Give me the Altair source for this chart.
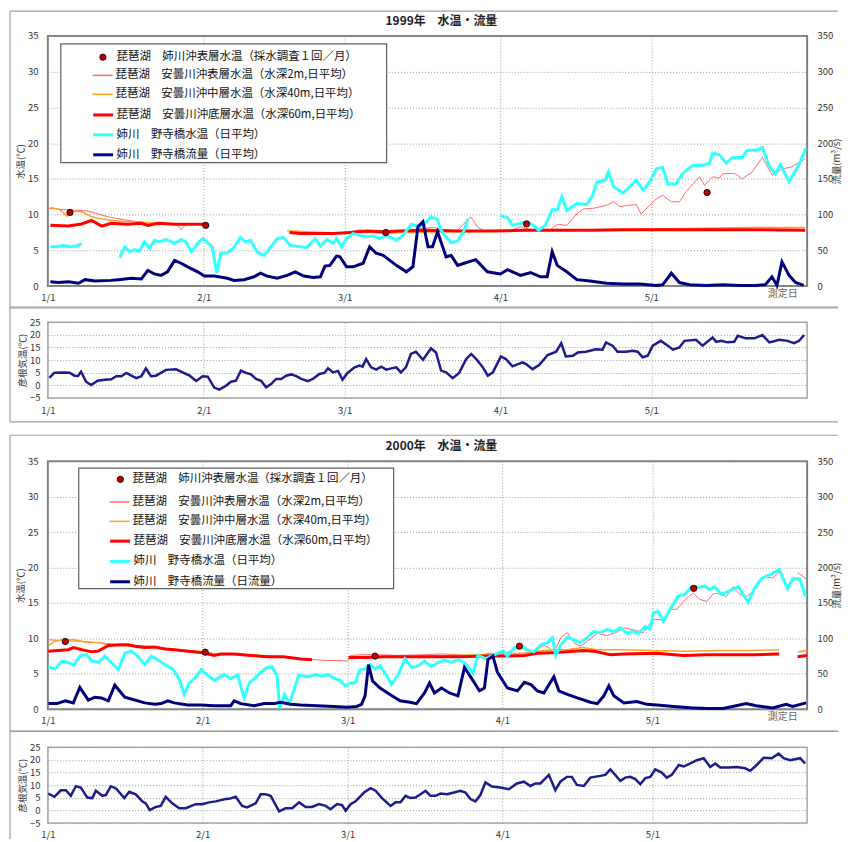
import altair as alt
import pandas as pd

FONT = "Noto Sans CJK JP"

# ---------------- 1999 ----------------
TICKS99 = [0, 31, 59, 90, 120]
TICKLAB99 = ["1/1", "2/1", "3/1", "4/1", "5/1"]
XEND99 = 151

NAMES99 = [
    "琵琶湖　姉川沖表層水温（採水調査１回／月）",
    "琵琶湖　安曇川沖表層水温（水深2m,日平均）",
    "琵琶湖　安曇川沖中層水温（水深40m,日平均）",
    "琵琶湖　安曇川沖底層水温（水深60m,日平均）",
    "姉川　野寺橋水温（日平均）",
    "姉川　野寺橋流量（日平均）",
]

DOT99 = [[4.4, 10.3], [31.4, 8.5], [67.2, 7.5], [95.2, 8.7], [131.1, 13.1]]

PINK99 = [
    [0, 10.9], [3, 10.7], [6, 10.6], [8, 10.5], [10, 10.1], [12, 9.7], [15, 9.3], [18, 9.0],
    [20, 8.9], [22, 8.8], [24, 8.7], [25.5, 8.8], [26.5, 7.9], [27.5, 8.7], [29, 8.7], [31, 8.7],
    None,
    [48.1, 7.5], [52, 7.4], [56, 7.35], [60, 7.5], [62, 7.9], [63.4, 7.6], [66.7, 7.35], [70, 7.5],
    [72.6, 7.9], [74.9, 8.1], [76.9, 8.2], [78.9, 7.7], [81.5, 7.8], [83.1, 9.0], [84.1, 9.7],
    [85.4, 8.3], [86.8, 7.7], [90, 7.8], [92, 7.8], [94, 8.3], [96, 7.9], [98, 7.8], [100, 7.9],
    [101.3, 8.65], [103.2, 8.5], [105.2, 10.1], [106.5, 10.8], [108.5, 10.9], [111.1, 11.3],
    [112.5, 11.8], [113.8, 11.1], [115.1, 11.3], [117, 11.4], [118, 10.1], [119.7, 11.3],
    [121, 12.2], [122.3, 12.7], [124, 11.8], [125.6, 11.8], [126.9, 13.2], [128.3, 14.3],
    [129.6, 15.3], [130.6, 14.1], [132.2, 15.3], [133.5, 15.1], [134.2, 15.7], [136.5, 15.8],
    [138.1, 15.0], [140.1, 16.0], [142.1, 18.0], [144.1, 15.5], [146, 16.4], [148, 16.7],
    [150.6, 17.8],
]

ORANGE99 = [
    [0.5, 11.0], [2.4, 10.7], [3.8, 9.8], [4.7, 10.5], [6.7, 10.4], [8.7, 9.7], [10.7, 9.4],
    [14, 9.1], [17.3, 9.0], [20.6, 8.8], [23.8, 8.75], [26.5, 8.7], [31, 8.7],
    None,
    [47.6, 7.7], [49, 7.7], [55, 7.4], [62, 7.5], [70, 7.5], [80, 7.6], [90, 7.7], [100, 7.8],
    [110, 7.9], [120, 8.0], [130, 8.1], [140, 8.2], [150.6, 8.2],
]

RED99 = [
    [0.5, 8.5], [4.1, 8.4], [6.7, 8.7], [8.7, 9.2], [10.7, 8.4], [12.6, 8.8], [15.9, 8.65],
    [18.6, 8.8], [19.9, 8.5], [21.9, 8.8], [25.2, 8.65], [27.8, 8.65], [31.8, 8.65],
    None,
    [48.1, 7.5], [50.2, 7.35], [53.5, 7.4], [56.8, 7.35], [60.1, 7.5], [63.4, 7.7], [66.7, 7.6],
    [70, 7.7], [74.9, 7.8], [81.5, 7.7], [88.1, 7.7], [94.7, 7.8], [101.3, 7.8], [107.9, 7.8],
    [114.4, 7.9], [121, 7.9], [127.6, 7.9], [134.2, 7.9], [140.8, 7.9], [150.6, 7.8],
]

CYAN99 = [
    [0.5, 5.5], [1.8, 5.5], [3.1, 5.7], [4.4, 5.5], [5.7, 5.6], [6.7, 5.95],
    None,
    [14.3, 4.0], [15.3, 5.5], [16.3, 4.8], [17.3, 5.1], [18.2, 4.9], [19.2, 6.2], [20.2, 5.3],
    [21.2, 6.4], [22.2, 6.2], [23.5, 6.5], [25.2, 6.0], [26.5, 6.5], [27.5, 6.2], [28.5, 4.8],
    [29.8, 6.0], [30.8, 6.65], [31.8, 6.0], [32.7, 5.5], [33.6, 1.8], [34.4, 4.6], [35.7, 4.65],
    [37, 5.4], [38.3, 6.8], [39.3, 6.2], [40.3, 6.4], [41.6, 4.8], [43, 4.3], [45.6, 6.65],
    [46.9, 6.8], [48.2, 5.7], [50.2, 5.5], [51.5, 5.4], [53.2, 6.65], [54.2, 5.6], [55.5, 6.5],
    [56.8, 6.0], [57.4, 6.65], [58.4, 5.5], [59.4, 6.65], [60.7, 7.35], [62.1, 7.1], [63.4, 6.9],
    [64.7, 7.0], [66, 6.65], [67.3, 7.1], [69.3, 6.4], [70.6, 7.1], [72.3, 8.65], [73.9, 8.3],
    [74.9, 8.65], [76.2, 9.7], [77.5, 9.3], [78.2, 7.8], [80.2, 6.05], [81.5, 6.3], [82.8, 7.8],
    [83.5, 9.4],
    None,
    [90, 9.8], [91.4, 9.6], [92.4, 8.5], [94, 8.8], [95.3, 9.0], [96.6, 8.5], [97.6, 7.8],
    [98.9, 8.5], [100.3, 10.7], [101.3, 10.7], [102.2, 12.5], [103.2, 10.6], [105.2, 11.6],
    [107.2, 11.4], [108.2, 12.5], [109.2, 14.6], [110.8, 14.8], [111.5, 16.0], [112.5, 13.9],
    [114.4, 13.0], [115.7, 13.9], [117, 14.8], [118.4, 13.4], [119.7, 14.6], [121, 16.4],
    [122.3, 16.6], [123.3, 14.3], [124.9, 14.3], [126.3, 15.8], [128.3, 16.9], [130.2, 16.9],
    [131.6, 17.2], [132.2, 18.6], [133.5, 18.4], [134.9, 17.2], [136.2, 18.0], [138.1, 18.0],
    [139.1, 19.0], [140.8, 19.0], [142.1, 19.4], [143.4, 16.9], [144.7, 15.7], [145.7, 17.0],
    [147.4, 14.6], [149.3, 16.9], [150.8, 19.3],
]

FLOW99 = [
    [0.5, 6], [2.1, 5], [4.1, 6], [6.1, 4], [7.4, 9], [9.4, 7], [12.6, 8], [14, 9], [16.6, 11],
    [18.6, 10], [19.9, 22], [21.2, 17], [22.5, 15], [23.8, 20], [25.2, 36], [26.5, 32],
    [27.8, 27], [29.8, 20], [31.1, 14], [33.1, 14], [35.7, 11], [37, 8], [39, 9], [41, 13],
    [42.3, 18], [43.6, 14], [45.6, 11], [47.6, 15], [49.2, 20], [50.9, 14], [52.8, 12],
    [54.2, 13], [55.1, 28], [56.1, 29], [57.4, 42], [58.1, 41], [59.4, 27], [60.7, 27],
    [62.7, 32], [64, 55], [65.3, 46], [66.7, 43], [68, 36], [69.3, 29], [71.3, 20], [72.6, 27],
    [73.6, 83], [74.6, 90], [75.6, 55], [76.5, 55], [77.5, 76], [79.2, 41], [80.2, 43],
    [81.5, 29], [82.8, 32], [85.1, 37], [87.4, 20], [90, 17], [91.4, 23], [94, 15], [96, 19],
    [98, 13], [99.3, 13], [100.3, 48], [101.3, 29], [103.2, 20], [105.2, 9], [107.8, 7],
    [111.1, 4], [114.4, 3], [117.7, 3], [121, 1], [122.3, 2], [124, 18], [125.6, 5], [127.6, 2],
    [130.9, 1], [134.2, 2], [137.5, 1], [140.8, 1], [142.7, 2], [144, 13], [145, 1], [146, 34],
    [147.4, 15], [148.7, 5], [150.3, 1],
]

AIR99 = [
    [0.3, 2.9], [1.3, 5.0], [3.3, 5.1], [4.3, 5.0], [5.3, 3.8], [6.0, 3.7], [6.6, 5.4], [7.6, 1.4],
    [8.6, 0.1], [9.9, 1.8], [11.3, 2.2], [12.6, 2.4], [13.6, 3.6], [14.6, 3.6], [15.6, 4.9],
    [16.6, 3.8], [17.6, 2.8], [18.6, 3.6], [19.5, 6.7], [20.5, 3.6], [21.5, 3.8], [23.5, 6.1],
    [25.5, 6.3], [26.8, 5.1], [28.2, 3.8], [29.5, 1.7], [30.8, 3.6], [31.8, 3.4], [33.1, -0.9],
    [34.1, -1.7], [35.5, -0.1], [36.4, 1.4], [37.4, 1.8], [38.4, 5.8], [39.4, 4.9], [40.4, 4.3],
    [41.4, 2.5], [42.4, 1.8], [43.4, -0.8], [44.4, 0.5], [45.4, 2.5], [46.4, 2.5], [47.4, 3.8],
    [48.4, 4.3], [49.4, 3.6], [50.4, 2.5], [51.7, 1.6], [52.7, 2.5], [54.0, 4.5], [55.0, 4.9],
    [55.7, 6.7], [56.7, 5.1], [57.7, 5.7], [58.6, 2.2], [59.6, 4.9], [61.0, 7.1], [62.0, 7.8],
    [62.6, 7.4], [63.3, 10.4], [64.3, 7.1], [65.3, 6.2], [66.3, 7.4], [67.3, 6.2], [68.3, 6.7],
    [69.3, 7.1], [70.2, 5.1], [71.2, 7.1], [72.2, 12.4], [73.2, 13.3], [74.6, 10.1],
    [76.2, 14.6], [77.2, 13.0], [78.2, 5.8], [79.2, 5.1], [80.5, 2.8], [81.8, 4.9], [83.2, 10.4],
    [84.2, 12.4], [85.2, 10.4], [86.5, 7.1], [87.5, 3.8], [88.5, 5.1], [90.1, 11.4], [91.1, 10.4],
    [92.4, 7.5], [94.4, 9.1], [95.1, 8.4], [96.4, 6.4], [97.7, 8.0], [99.4, 12.0], [101.1, 13.3],
    [102.1, 16.7], [103.0, 11.4], [104.4, 11.7], [105.4, 13.0], [107.0, 13.3], [109.0, 14.3],
    [110.3, 14.1], [111.0, 17.0], [112.3, 15.7], [113.3, 13.3], [115.0, 13.3], [116.3, 13.7],
    [117.3, 13.3], [118.3, 11.1], [119.3, 11.7], [120.3, 15.7], [121.9, 17.6], [123.3, 15.7],
    [124.3, 14.1], [125.6, 15.0], [126.6, 17.6], [128.9, 18.0], [130.2, 15.7], [132.2, 18.9],
    [132.9, 17.2], [133.9, 17.6], [135.2, 17.0], [136.5, 17.2], [137.2, 19.6], [138.8, 18.6],
    [140.5, 18.6], [142.1, 19.9], [143.5, 17.0], [145.5, 18.0], [147.1, 17.6], [148.4, 16.7],
    [149.4, 17.6], [150.4, 19.9],
]

# ---------------- 2000 ----------------
TICKS00 = [0, 31, 60, 91, 121]
TICKLAB00 = ["1/1", "2/1", "3/1", "4/1", "5/1"]
XEND00 = 152

NAMES00 = NAMES99[:5] + ["姉川　野寺橋流量（日流量）"]

DOT00 = [[3.5, 9.56], [31.5, 8.06], [65.5, 7.5], [94.4, 8.9], [129.3, 17.06]]

PINK00 = [
    [0, 9.8], [3, 9.7], [6, 9.6], [10, 9.4], [13, 9.2], [16, 9.1], [20, 8.9], [24, 8.6],
    [28, 8.3], [31, 8.1], [34, 7.8], [38, 7.8], [42, 7.6], [46, 7.4], [50, 7.2], [53, 7.0],
    [56, 6.9], [59, 6.85], [60, 6.8], [60.5, 7.6], [63, 7.7], [66, 7.7], [70, 7.6], [75.4, 7.7],
    [78.8, 7.8], [82.1, 7.7], [85.4, 7.5], [88.7, 7.9], [91.2, 7.8], [94, 8.7], [95.4, 8.9],
    [96.7, 8.1], [98, 8.4], [99.3, 9.0], [100.3, 8.7], [101.3, 8.0], [102.7, 10.1], [104, 10.8],
    [105.3, 9.4], [106.6, 8.9], [108, 9.6], [110, 10.7], [112, 10.4], [114, 10.9], [115.3, 11.5],
    [117.3, 11.2], [119.2, 10.8], [121.2, 12.7], [123.2, 12.6], [124.6, 14.1], [125.9, 14.1],
    [127.9, 15.7], [129.2, 16.4], [130.5, 15.5], [131.9, 15.2], [133.2, 16.3], [134.5, 16.3],
    [135.8, 15.9], [137.2, 17.3], [138.5, 16.2], [139.8, 15.9], [141.1, 16.5], [142.5, 18.0],
    [143.8, 18.7], [145.1, 18.5], [146.4, 19.4],
    None,
    [150.1, 19.3], [151.8, 18.4],
]

ORANGE00 = [
    [0.1, 9.0], [1.5, 9.6], [3.1, 9.8], [5.4, 9.8], [7.4, 9.5], [10.1, 9.4], [12.1, 9.1],
    [14.1, 9.0], [17.4, 8.9], [18.7, 8.8], [24, 8.5], [30.7, 8.1], [34, 7.7], [37.3, 7.8],
    [43.9, 7.5], [47.2, 7.4], [50.6, 7.1], [52.9, 7.0],
    None,
    [60.5, 7.5], [65, 7.4], [70, 7.4], [75.4, 7.5], [82, 7.6], [91.2, 7.8], [95, 7.9], [98, 8.2],
    [101, 8.4], [104, 8.4], [107, 8.7], [110, 8.4], [115, 8.4], [121.2, 8.3], [128, 8.2],
    [135, 8.3], [141, 8.3], [146.4, 8.4],
    None,
    [150.1, 8.1], [152, 8.3],
]

RED00 = [
    [0.1, 8.2], [2.1, 8.3], [4.1, 8.4], [5.1, 8.7], [6.8, 8.4], [8.8, 8.1], [10.1, 8.2],
    [12.1, 9.0], [14.7, 9.1], [16.1, 9.1], [17.4, 8.9], [19.4, 8.7], [21.4, 8.8], [23.4, 8.5],
    [25.3, 8.4], [28, 8.2], [30.7, 8.0], [33.3, 7.6], [34.6, 7.8], [37.3, 7.8], [40.6, 7.6],
    [43.9, 7.4], [47.2, 7.4], [50.6, 7.1], [52.9, 7.0],
    None,
    [60.2, 7.3], [63.8, 7.3], [67.2, 7.4], [75.4, 7.4], [82.1, 7.4], [88.7, 7.5], [91.2, 7.5],
    [95.4, 7.6], [98, 7.9], [102, 8.0], [107.3, 8.3], [109.3, 8.2], [112.6, 7.7], [115.3, 7.8],
    [121.9, 7.9], [127.2, 7.6], [131.9, 7.7], [135.2, 7.7], [141.8, 7.7], [146.4, 7.8],
    None,
    [150.1, 7.4], [152, 7.6],
]

CYAN00 = [
    [0.1, 6.0], [1.5, 5.7], [2.8, 6.8], [4.1, 6.6], [5.1, 6.2], [6.4, 7.5], [7.8, 7.7], [8.8, 6.8],
    [10.1, 6.6], [11.4, 7.5], [12.7, 6.6], [14.1, 5.6], [15.4, 7.9], [16.7, 8.2], [18, 7.5],
    [19.4, 6.3], [20.7, 7.5], [22, 7.0], [23.4, 6.3], [25, 5.7], [26.3, 4.2], [27.3, 2.1],
    [28.3, 3.7], [29.3, 4.3], [30.7, 5.6], [32, 4.8], [33.3, 4.1], [34.3, 4.5], [35.3, 4.9],
    [36.6, 4.3], [38, 4.8], [39.3, 1.6], [40.3, 3.7], [41.3, 4.3], [42.6, 5.2], [43.9, 5.9],
    [44.9, 6.0], [45.9, 4.7], [46.4, 0.1], [47.4, 2.1], [48.4, 0.8], [50.2, 4.8], [52.2, 4.6],
    [53.6, 4.9], [54.9, 4.7], [56.2, 4.9], [57.5, 4.3], [58.5, 4.1], [59.5, 3.3], [60.5, 3.7],
    [61.5, 3.7], [62.5, 5.6], [63.5, 5.7], [64.5, 6.3], [65.5, 5.7], [66.5, 6.1], [67.8, 4.8],
    [68.8, 3.5], [70.1, 4.8], [71.5, 7.1], [72.8, 5.9], [74.1, 6.1], [75.4, 6.8], [76.8, 6.0],
    [78.1, 6.6], [79.4, 6.9], [80.8, 6.6], [82.1, 7.0], [83.4, 6.6], [85.1, 5.1], [86.1, 7.6],
    [87.7, 7.1], [88.7, 7.5], [91.2, 8.2], [92, 7.5], [93.4, 8.7], [94.7, 8.8], [96, 8.4],
    [97.3, 8.1], [98.7, 9.1], [100, 9.4], [101, 10.1], [101.7, 7.6], [102.7, 9.1], [104, 10.2],
    [105.3, 9.8], [106.6, 9.4], [108, 10.1], [109.3, 11.0], [110.6, 10.8], [112, 11.3],
    [113.3, 10.9], [114.6, 11.5], [116, 10.7], [116.9, 11.0], [118.2, 10.7], [119.6, 11.7],
    [120.6, 11.3], [121.2, 13.6], [122.2, 13.8], [123.2, 12.4], [124.9, 14.5], [126.2, 16.0],
    [127.5, 16.2], [128.9, 17.3], [130.2, 17.2], [131.5, 17.4], [132.5, 16.9], [133.5, 17.3],
    [134.8, 16.2], [136.2, 16.6], [138.2, 17.3], [140.2, 15.1], [141.5, 17.1], [142.8, 18.4],
    [144.5, 19.0], [146.4, 19.7], [148.1, 17.0], [149.1, 18.4], [150.5, 18.4], [151.7, 15.9],
]

FLOW00 = [
    [0.1, 8], [1.8, 8], [3.5, 12], [5.1, 9], [6.4, 31], [8.1, 13], [9.4, 17], [10.7, 16],
    [12.1, 12], [13.4, 34], [15.4, 17], [17.4, 13], [19.4, 9], [21.4, 7], [22.7, 8], [24, 12],
    [25.3, 9], [28, 6], [30.7, 6], [33.3, 5], [36.6, 5], [37.3, 12], [38.6, 8], [41.3, 5],
    [43.3, 8], [45.3, 8], [46.6, 10], [48.6, 7], [50.6, 6], [53.9, 5], [57.2, 4], [59.9, 3],
    [61.8, 4], [62.8, 7], [63.5, 19], [64.2, 63], [65, 40], [66.5, 30], [68.5, 21], [70.5, 12],
    [72.5, 10], [73.8, 8], [75.4, 23], [76.4, 37], [77.4, 23], [78.8, 30], [80.4, 23],
    [82.1, 19], [83.4, 59], [84.7, 45], [86.4, 26], [87.4, 30], [88.1, 70], [89.1, 75],
    [90, 52], [92, 30], [94, 26], [95.4, 38], [96.7, 35], [98, 26], [99.3, 23], [101.3, 46],
    [102.3, 26], [104, 21], [106, 16], [108.6, 10], [110, 8], [111.3, 19], [112.3, 33],
    [113.3, 19], [115.3, 9], [117.9, 11], [119.9, 7], [121.9, 6], [125.3, 4], [128.6, 2],
    [131.9, 1], [135.2, 1], [137.8, 5], [139.8, 8], [141.8, 5], [145.1, 2], [147.8, 7],
    [149.1, 4], [151.8, 9],
]

AIR00 = [
    [0.1, 6.7], [1.3, 5.4], [2.6, 8.0], [3.6, 8.0], [4.6, 5.8], [5.6, 9.6], [6.6, 9.1], [7.9, 5.1],
    [8.9, 4.9], [9.6, 7.8], [10.9, 5.8], [11.6, 6.1], [12.6, 9.6], [13.6, 8.8], [15.3, 4.9],
    [16.3, 7.4], [17.6, 6.4], [18.9, 3.6], [19.6, 2.8], [20.4, 0.1], [21.6, 1.4], [22.6, 1.8],
    [23.6, 5.4], [24.9, 2.8], [26.3, 0.9], [27.6, 0.9], [29.6, 2.5], [30.9, 2.5], [32.3, 3.2],
    [33.6, 3.6], [35.6, 4.5], [36.3, 4.6], [37.6, 5.4], [38.9, 1.8], [39.9, 1.2], [41.6, 2.8],
    [42.6, 6.4], [43.6, 6.4], [44.6, 5.8], [46.3, -0.4], [47.6, 0.9], [48.9, 0.9], [50.3, 3.2],
    [51.6, 1.4], [52.9, 1.4], [54.3, 2.5], [55.6, 1.8], [56.6, 0.5], [57.9, 2.5], [58.9, 2.1],
    [59.6, -0.1], [60.6, 2.5], [61.6, 3.6], [63.3, 7.1], [64.6, 8.8], [65.6, 7.8], [66.9, 4.9],
    [68.6, 1.8], [69.6, 3.2], [70.6, 3.2], [71.6, 5.8], [72.6, 4.9], [73.6, 5.1], [74.6, 6.4],
    [75.6, 7.8], [76.6, 5.8], [77.6, 5.8], [78.6, 6.7], [79.9, 6.4], [81.3, 7.1], [82.6, 7.8],
    [83.6, 7.1], [84.6, 4.5], [85.6, 3.6], [86.6, 6.2], [87.6, 11.1], [88.9, 9.5], [90.6, 9.1],
    [92.3, 8.4], [93.9, 10.7], [95.3, 11.4], [96.6, 9.7], [97.6, 10.7], [98.6, 10.7],
    [100.3, 14.1], [101.6, 8.0], [102.6, 11.4], [103.9, 13.3], [104.9, 13.3], [105.9, 10.1],
    [107.3, 9.7], [108.6, 13.0], [110.6, 13.7], [111.6, 14.1], [112.6, 16.3], [114.6, 11.7],
    [115.6, 13.0], [116.6, 13.3], [117.6, 12.4], [118.6, 10.4], [119.6, 12.8], [120.6, 13.3],
    [121.6, 16.3], [122.9, 15.0], [123.9, 13.0], [124.9, 14.1], [126.3, 18.0], [127.3, 17.4],
    [128.3, 18.3], [129.9, 19.9], [131.3, 20.7], [132.6, 17.2], [133.6, 18.6], [134.6, 17.0],
    [136.3, 17.0], [137.9, 17.2], [139.6, 16.7], [140.6, 15.7], [141.9, 18.0], [143.3, 20.9],
    [144.9, 20.7], [146.3, 22.5], [147.3, 20.7], [148.6, 19.9], [150.6, 20.7], [151.6, 18.6],
]

# ---------------- styling ----------------
THIN_COLORS = ["#ff6a6a", "#ffa020"]          # 2m (thin), 40m (thin)
THICK_COLORS = ["#ff0000", "#33ffff", "#00007f"]  # 60m, river temp, river flow
DOT_COLOR = "#c00000"
AIR_COLOR = "#1c1c8c"
FRAME_COLOR = "#a0a0a0"
LEG_FS = 11.5
FRAME_RIGHT = 793
# the frame rules' stroke bounds (width + miter allowance) enlarge each panel's bounds
RULE_BOUND = 2.4

ONE = pd.DataFrame({"k": [0]})


def to_df(points, name):
    rows, seg = [], 0
    for p in points:
        if p is None:
            seg += 1
            continue
        rows.append({"day": p[0], "value": p[1], "series": name, "seg": f"{name}-{seg}"})
    return pd.DataFrame(rows)


def label_expr(ticks, labels):
    s = "''"
    for t, l in reversed(list(zip(ticks, labels))):
        s = f"datum.value == {t} ? '{l}' : ({s})"
    return s


def frame(top, bottom, left=-38, right=FRAME_RIGHT, bottom_line=True):
    base = alt.Chart(ONE).mark_rule(color=FRAME_COLOR, strokeWidth=1.2)
    parts = [
        base.encode(x=alt.value(left), x2=alt.value(right), y=alt.value(top)),
        base.encode(x=alt.value(left), y=alt.value(top), y2=alt.value(bottom)),
    ]
    if bottom_line:
        parts.append(base.encode(x=alt.value(left), x2=alt.value(right), y=alt.value(bottom)))
    return parts


def line_legend(x, y, rp, sw):
    return alt.Legend(orient="none", legendX=x, legendY=y, title=None, symbolType="stroke",
                      symbolSize=400, symbolStrokeWidth=sw, labelFont=FONT, labelFontSize=LEG_FS,
                      labelColor="#111", labelOffset=2, labelLimit=500, rowPadding=rp,
                      padding=0)


def main_panel(title, names, dots, pink, orange, red, cyan, flow, ticks, labs, xend, height,
               ftop, fbot, box, leg_x, dot_x, dot_y, dot_off, thin_y, thick_y, rp):
    xscale = alt.Scale(domain=[0, xend], nice=False, zero=False)
    xaxis = alt.Axis(values=ticks, labelExpr=label_expr(ticks, labs), grid=True,
                     labelFlush=False,
                     title="測定日", titleX=737, titleY=7, titleAlign="center",
                     titleBaseline="middle", titleFontSize=10, titleColor="#666",
                     labelPadding=6)
    X = alt.X("day:Q", scale=xscale, axis=xaxis)
    tscale = alt.Scale(domain=[0, 35], nice=False)
    Yt_axis = alt.Y("value:Q", scale=tscale,
                    axis=alt.Axis(values=list(range(0, 36, 5)), title="水温(℃)", grid=True,
                                  labelPadding=10, titlePadding=2, orient="left"))
    Yt = alt.Y("value:Q", scale=tscale, axis=None)

    thin_scale = alt.Scale(domain=names[1:3], range=THIN_COLORS)
    thick_scale = alt.Scale(domain=names[3:6], range=THICK_COLORS)
    leg_thin = line_legend(leg_x, thin_y, rp, 1.5)
    leg_thick = line_legend(leg_x, thick_y, rp, 3)

    pink_layer = alt.Chart(to_df(pink, names[1])).mark_line(strokeWidth=1).encode(
        x=X, y=Yt_axis, color=alt.Color("series:N", scale=thin_scale, legend=leg_thin),
        detail="seg:N", order="day:Q")
    orange_layer = alt.Chart(to_df(orange, names[2])).mark_line(strokeWidth=1.5).encode(
        x=X, y=Yt, color=alt.Color("series:N", scale=thin_scale, legend=leg_thin),
        detail="seg:N", order="day:Q")
    thick_df = pd.concat([to_df(red, names[3]), to_df(cyan, names[4])], ignore_index=True)
    thick_layer = alt.Chart(thick_df).mark_line(strokeWidth=3).encode(
        x=X, y=Yt, stroke=alt.Stroke("series:N", scale=thick_scale, legend=leg_thick),
        detail="seg:N", order="day:Q")
    flow_layer = alt.Chart(to_df(flow, names[5])).mark_line(strokeWidth=3).encode(
        x=X,
        y=alt.Y("value:Q", scale=alt.Scale(domain=[0, 350], nice=False),
                axis=alt.Axis(values=list(range(0, 351, 50)), title="流量(m³/s)", grid=False,
                              orient="right", labelPadding=10, titleAngle=270, titleX=29,
                              titleY=height / 2, titleAlign="center",
                              titleBaseline="middle")),
        stroke=alt.Stroke("series:N", scale=thick_scale, legend=leg_thick),
        detail="seg:N", order="day:Q")
    dot_layer = alt.Chart(to_df(dots, names[0])).mark_circle(
        size=40, stroke="black", strokeWidth=0.8, opacity=1).encode(
        x=X, y=Yt,
        fill=alt.Fill("series:N", scale=alt.Scale(domain=[names[0]], range=[DOT_COLOR]),
                      legend=alt.Legend(orient="none", legendX=dot_x, legendY=dot_y, title=None,
                                        symbolType="circle", symbolSize=40,
                                        symbolStrokeColor="black", symbolStrokeWidth=0.8,
                                        labelFont=FONT, labelFontSize=LEG_FS, labelColor="#111",
                                        labelOffset=dot_off, labelLimit=500, padding=0)),
    )
    legend_box = alt.Chart(ONE).mark_rect(fill="white", stroke="#606060", strokeWidth=1.2).encode(
        x=alt.value(box[0]), x2=alt.value(box[1]), y=alt.value(box[2]), y2=alt.value(box[3]))
    title_text = alt.Chart(ONE).mark_text(text=title, font=FONT, fontSize=12, fontWeight="bold",
                                          color="#222").encode(
        x=alt.value(395), y=alt.value(-15))
    layers = frame(ftop, fbot) + [title_text, legend_box, pink_layer, orange_layer, thick_layer,
                                  flow_layer, dot_layer]
    return alt.layer(*layers).resolve_scale(y="independent").properties(
        width=762, height=height,
        view=alt.ViewBackground(stroke="#808080", strokeWidth=2))


def air_panel(points, ticks, labs, xend, ftop, fbot, bottom_line, lab_pad):
    xscale = alt.Scale(domain=[0, xend], nice=False, zero=False)
    line = alt.Chart(to_df(points, "air")).mark_line(color=AIR_COLOR, strokeWidth=2.5).encode(
        x=alt.X("day:Q", scale=xscale,
                axis=alt.Axis(values=ticks, labelExpr=label_expr(ticks, labs), grid=True,
                              labelFlush=False, title=None, labelPadding=lab_pad)),
        y=alt.Y("value:Q", scale=alt.Scale(domain=[-5, 25], nice=False),
                axis=alt.Axis(values=list(range(-5, 26, 5)), title="彦根気温(℃)", grid=True,
                              labelPadding=8, titlePadding=2)),
        order="day:Q",
    )
    layers = frame(ftop, fbot, bottom_line=bottom_line) + [line]
    return alt.layer(*layers).properties(
        width=762, height=76,
        view=alt.ViewBackground(stroke="#a8a8a8", strokeWidth=1.5))


m99 = main_panel("1999年　水温・流量", NAMES99, DOT99, PINK99, ORANGE99, RED99, CYAN99, FLOW99,
                 TICKS99, TICKLAB99, XEND99, 251, -25, 273, (13, 340, 8, 127),
                 44, 49.5, 15.5, 8, 28.5, 67.75, 2.0)
a99 = air_panel(AIR99, TICKS99, TICKLAB99, XEND99, -15, 100, True, 8)
m00 = main_panel("2000年　水温・流量", NAMES00, DOT00, PINK00, ORANGE00, RED00, CYAN00, FLOW00,
                 TICKS00, TICKLAB00, XEND00, 249, -26, 271, (31, 347, 7, 128),
                 61, 67, 12.5, 6.5, 30, 68.75, 2.4)
a00 = air_panel(AIR00, TICKS00, TICKLAB00, XEND00, -16, 92, False, 6)

RES = dict(color="independent", stroke="independent", fill="independent")

top = alt.vconcat(m99, a99, spacing=-2 * RULE_BOUND).resolve_scale(**RES)
bot = alt.vconcat(m00, a00, spacing=-2 * RULE_BOUND + 1).resolve_scale(**RES)

chart = alt.vconcat(top, bot, spacing=11 - 2 * RULE_BOUND + 3.5).resolve_scale(**RES).properties(
    padding={"left": 0, "top": 2 - RULE_BOUND, "right": 0, "bottom": 0},
    background="white",
).configure_axis(
    labelFont=FONT, titleFont=FONT, labelFontSize=9.5, titleFontSize=9.5,
    labelColor="#333", titleColor="#333", titleFontWeight="normal",
    ticks=False, domain=False, gridColor="#9a9a9a", gridDash=[1, 2], gridWidth=1,
).configure_text(font=FONT)

chart.save("out.html", embed_options={"renderer": "svg", "actions": False})
